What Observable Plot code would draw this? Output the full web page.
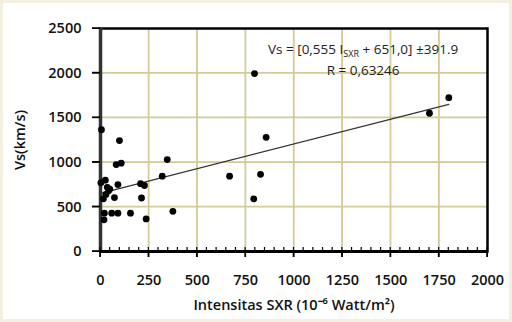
<!DOCTYPE html>
<html><head><meta charset="utf-8">
<script src="https://cdn.jsdelivr.net/npm/d3@7"></script>
<script src="https://cdn.jsdelivr.net/npm/@observablehq/plot@0.6"></script>
<style>
html,body{margin:0;padding:0;background:#fff;}
#chart svg{display:block;border:3px solid #f3f0e2;background:#fff;font-family:'Open Sans',sans-serif;color:#111;}
</style>
</head><body><div id="chart"></div>
<script>
// Data
const sxr = [5, 98, 81, 107, 345, 2, 25, 90, 207, 227, 319, 35, 42, 28, 15, 72, 212, 20, 58, 90, 155, 18, 236, 374, 667, 792, 796, 856, 827, 1700, 1800, 48];
const vs  = [1365, 1244, 975, 990, 1030, 770, 800, 750, 760, 740, 845, 720, 680, 640, 590, 605, 600, 430, 430, 430, 430, 355, 365, 450, 845, 590, 1995, 1280, 865, 1550, 1725, 700];
const fitX = [0, 1800];
const slope = 0.555, intercept = 651.0;
const xTicks = [0, 250, 500, 750, 1000, 1250, 1500, 1750, 2000];
const xMinor = d3.range(0, 2001, 50);
const yTicks = [0, 500, 1000, 1500, 2000, 2500];
const xGrid = [250, 500, 750, 1000, 1250, 1500, 1750];
const yGrid = [500, 1000, 1500, 2000];
const annoX = [1357, 1357];
const annoY = [2265, 2029];
const annoText = ["Vs = [0,555 I_SXR + 651,0] ±391.9", "R = 0,63246"];

const xDom = [0, 2000], yDom = [0, 2500];
const points = sxr.map((x, i) => ({x, y: vs[i]}));
const fit = fitX.map(x => ({x, y: slope * x + intercept}));
const anno = annoText.map((t, i) => ({x: annoX[i], y: annoY[i], t}));

const gridColor = "#d4cc98";
const chart = Plot.plot({
  width: 506, height: 316,
  marginLeft: 97, marginRight: 22, marginTop: 25, marginBottom: 68,
  x: {domain: xDom},
  y: {domain: yDom},
  marks: [
    Plot.ruleX(xGrid, {stroke: gridColor, strokeWidth: 1.3}),
    Plot.ruleY(yGrid, {stroke: gridColor, strokeWidth: 1.3}),
    Plot.frame({stroke: "#000", strokeWidth: 2.5}),
    Plot.axisX({ticks: xTicks, tickSize: 6, tickPadding: 17, label: "Intensitas SXR (10⁻⁶ Watt/m²)", labelAnchor: "center", labelOffset: 58, labelArrow: "none", fontSize: 14.5, fontWeight: 600, tickFormat: d => String(d)}),
    Plot.axisY({ticks: yTicks, tickSize: 8, tickPadding: 11, label: "Vs(km/s)", labelAnchor: "center", labelOffset: 86, labelArrow: "none", fontSize: 14.5, fontWeight: 600, tickFormat: d => String(d)}),
    Plot.ruleX([0], {stroke: "#333", strokeWidth: 3.5}),
    Plot.ruleY([0], {stroke: "#000", strokeWidth: 3}),
    Plot.line(fit, {x: "x", y: "y", stroke: "#333", strokeWidth: 1.2}),
    Plot.dot(points, {x: "x", y: "y", r: 3.4, fill: "#000", stroke: "none"}),
    Plot.text(anno, {x: "x", y: "y", text: "t", fontSize: 13.5, fill: "#222", textAnchor: "middle"})
  ]
});

// grid lines and ticks drawn again with d3 through the chart's own scales (backup)
const sx = chart.scale("x"), sy = chart.scale("y");
const X = v => sx.apply(v), Y = v => sy.apply(v);
const svg = d3.select(chart);
const firstG = chart.querySelector("g");
const gGrid = svg.insert("g", () => firstG).attr("aria-label", "grid-backup");
xGrid.forEach(v => gGrid.append("line").attr("x1", X(v)).attr("x2", X(v)).attr("y1", Y(yDom[0])).attr("y2", Y(yDom[1])).attr("stroke", gridColor).attr("stroke-width", 1.3));
yGrid.forEach(v => gGrid.append("line").attr("y1", Y(v)).attr("y2", Y(v)).attr("x1", X(xDom[0])).attr("x2", X(xDom[1])).attr("stroke", gridColor).attr("stroke-width", 1.3));
const gTicks = svg.append("g").attr("aria-label", "ticks-backup").attr("stroke", "#000");
xMinor.forEach(v => gTicks.append("line").attr("x1", X(v)).attr("x2", X(v)).attr("y1", Y(0)).attr("y2", Y(0) - 4).attr("stroke-width", 1.2));
xTicks.forEach(v => gTicks.append("line").attr("x1", X(v)).attr("x2", X(v)).attr("y1", Y(0)).attr("y2", Y(0) + 6).attr("stroke-width", 1.6));
yTicks.forEach(v => gTicks.append("line").attr("y1", Y(v)).attr("y2", Y(v)).attr("x1", X(0)).attr("x2", X(0) - 8).attr("stroke-width", 1.6));

// subscript for I_SXR
svg.selectAll("text").each(function() {
  const el = d3.select(this);
  const s = el.text();
  if (s.includes("_SXR")) {
    const [a, b] = s.split("_SXR");
    el.text(null);
    el.append("tspan").text(a);
    el.append("tspan").attr("font-size", "9").attr("dy", "3").text("SXR");
    el.append("tspan").attr("dy", "-3").text(b);
  }
});
document.getElementById("chart").append(chart);
</script>
</body></html>
